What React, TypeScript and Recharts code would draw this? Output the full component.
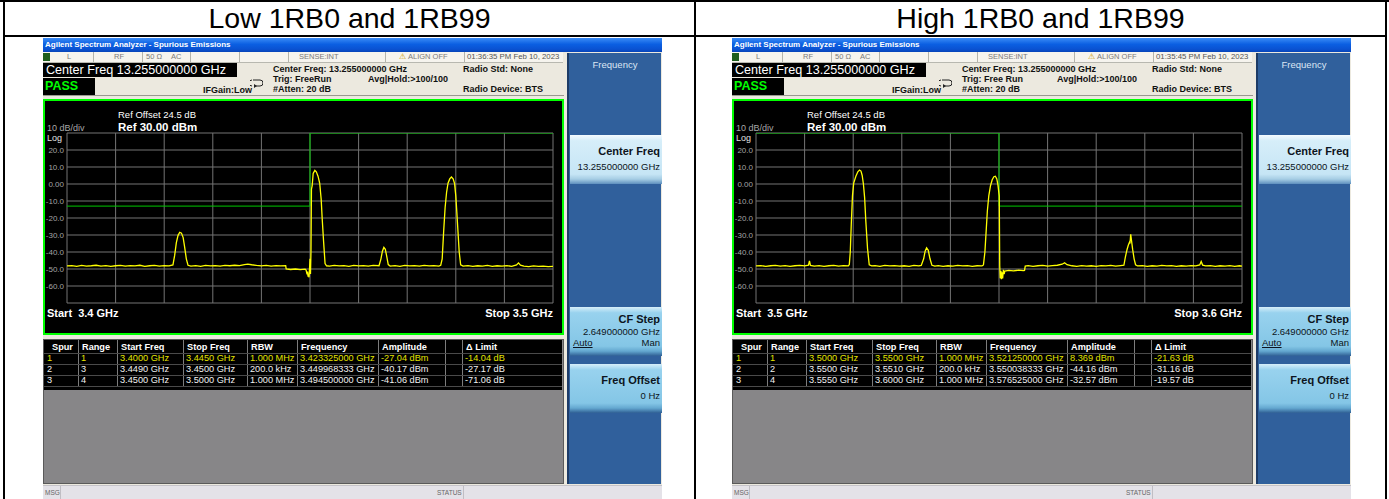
import React from 'react';
import { LineChart, Line, XAxis, YAxis, CartesianGrid } from 'recharts';

type Pt = [number, number];

// trace: [frequency MHz, level dBm]
const lowTrace: Pt[] = [
  [3400, -48.2], [3401, -48.0], [3402, -48.4], [3403, -47.9], [3404, -48.3], [3405, -48.1],
  [3406, -47.8], [3407, -48.3], [3408, -48.0], [3409, -48.5], [3410, -48.1], [3411, -47.9],
  [3412, -48.3], [3413, -48.0], [3414, -48.2], [3415, -47.8], [3416, -48.4], [3417, -48.1],
  [3418, -47.9], [3419, -48.3], [3420, -48.0], [3421, -48.2], [3421.8, -47.6], [3422.15, -42],
  [3422.5, -34.5], [3422.85, -30.2], [3423.2, -28.4], [3423.55, -28.9], [3423.9, -31.5],
  [3424.2, -37], [3424.55, -44], [3424.9, -47.8], [3425.5, -48.3], [3426.5, -48.0],
  [3427.5, -48.4], [3428.5, -47.9], [3429.5, -48.2], [3430.5, -48.0], [3431.5, -48.3],
  [3432.5, -47.9], [3433.5, -48.1], [3434.5, -47.8], [3435.5, -48.0], [3436.5, -47.4],
  [3437.2, -47.1], [3438, -47.5], [3439, -47.9], [3440, -48.2], [3441, -47.9], [3442, -48.3],
  [3443, -48.0], [3444, -48.2], [3445, -48.0], [3445.1, -50.0], [3446, -50.3], [3447, -50.0],
  [3448, -50.4], [3449, -50.1], [3449.2, -50.6], [3449.4, -53.2], [3449.5, -51.5],
  [3449.6, -54.5], [3449.7, -52.8], [3449.8, -54.9], [3449.9, -50], [3450.0, -44],
  [3450.1, -53], [3450.2, -40], [3450.3, -3], [3450.45, -1], [3450.65, 6.2], [3451.0, 8.0],
  [3451.3, 7.2], [3451.65, 4.6], [3452.0, 0.4], [3452.3, -9], [3452.5, -20], [3452.8, -34],
  [3453.1, -46.8], [3453.4, -48.1], [3454, -48.3], [3455, -47.9], [3456, -48.2], [3457, -48.0],
  [3458, -48.4], [3459, -47.9], [3460, -48.2], [3461, -48.0], [3462, -48.3], [3463, -47.9],
  [3464.2, -48.1], [3464.6, -44], [3464.9, -39.5], [3465.2, -37.3], [3465.5, -38.4],
  [3465.75, -42], [3466.1, -47.4], [3466.5, -48.3], [3467.5, -48.0], [3468.5, -48.4],
  [3469.5, -47.9], [3470.5, -48.2], [3471.5, -48.0], [3472.5, -48.3], [3473.5, -47.9],
  [3474.5, -48.2], [3475.5, -48.0], [3476.5, -48.3], [3476.9, -47.8], [3477.2, -44],
  [3477.5, -28], [3477.8, -14], [3478.1, -5], [3478.4, 0.5], [3478.75, 3], [3479.1, 4.1],
  [3479.45, 3], [3479.75, 0.2], [3480.0, -7], [3480.2, -16], [3480.45, -28], [3480.7, -40],
  [3481.0, -47.5], [3481.5, -48.3], [3482.5, -48.0], [3483.5, -48.5], [3484.5, -48.1],
  [3485.5, -48.3], [3486.5, -47.9], [3487.5, -48.4], [3488.5, -48.1], [3489.5, -48.3],
  [3490.5, -48.0], [3491.5, -48.4], [3492.5, -47.6], [3492.9, -46.4], [3493.3, -47.7],
  [3494, -48.3], [3495, -48.6], [3496, -48.2], [3497, -48.5], [3498, -48.3], [3499, -48.6],
  [3500, -48.4],
];

const highTrace: Pt[] = [
  [3500, -48.2], [3501, -48.0], [3502, -48.4], [3503, -48.1], [3504, -47.9], [3505, -48.3],
  [3506, -48.0], [3507, -48.5], [3508, -48.1], [3509, -47.9], [3510, -48.2], [3510.8, -47.8],
  [3511.0, -45.2], [3511.2, -47.9], [3512, -48.3], [3513, -48.0], [3514, -48.4], [3515, -48.1],
  [3516, -47.9], [3517, -48.3], [3518, -48.0], [3519, -48.2], [3519.2, -47.4], [3519.4, -40],
  [3519.6, -24], [3519.85, -7], [3520.1, 0.5], [3520.55, 4.5], [3520.95, 7.2], [3521.3, 8.2],
  [3521.6, 7.6], [3521.85, 5], [3522.1, 0], [3522.35, -8], [3522.6, -22], [3522.95, -38],
  [3523.3, -47.5], [3523.8, -48.2], [3524.5, -48.0], [3525.5, -48.4], [3526.5, -47.9],
  [3527.5, -48.2], [3528.5, -48.0], [3529.5, -48.3], [3530.5, -48.1], [3531.5, -48.4],
  [3532.5, -47.9], [3533.5, -48.2], [3534.0, -47.9], [3534.5, -44], [3534.8, -39.5],
  [3535.1, -37.6], [3535.45, -39], [3535.8, -44], [3536.2, -47.8], [3536.8, -48.3],
  [3537.5, -48.0], [3538.5, -48.4], [3539.5, -48.1], [3540.5, -48.3], [3541.5, -47.9],
  [3542.5, -48.2], [3543.5, -48.0], [3544.5, -48.4], [3545.5, -48.1], [3546.5, -48.2],
  [3546.8, -47.6], [3547.1, -40], [3547.35, -28], [3547.6, -16], [3547.9, -7], [3548.25, -1],
  [3548.6, 2.5], [3548.95, 4.3], [3549.25, 4.6], [3549.55, 3], [3549.8, -1], [3550.05, -7],
  [3550.15, -48], [3550.25, -55.5], [3550.4, -51], [3550.5, -56], [3550.65, -52],
  [3550.75, -55.5], [3550.9, -50.5], [3551.05, -53], [3551.2, -51.2], [3552, -50.8],
  [3553, -51.1], [3554, -50.7], [3555, -51.0], [3555.25, -50.8], [3555.4, -48.3], [3556, -48.0],
  [3557, -48.4], [3558, -48.1], [3559, -47.9], [3560, -48.3], [3561, -48.0], [3562, -47.8],
  [3563, -47.2], [3563.5, -46.3], [3564, -47.5], [3565, -48.1], [3566, -48.4], [3567, -48.0],
  [3568, -48.3], [3569, -48.1], [3570, -48.4], [3571, -48.0], [3572, -48.2], [3573, -47.9],
  [3574, -48.3], [3575, -48.0], [3575.7, -47.8], [3576.0, -43], [3576.35, -38.5],
  [3576.6, -36], [3576.85, -34.3], [3576.95, -35], [3577.1, -29.6], [3577.3, -34],
  [3577.5, -38.5], [3577.8, -44], [3578.1, -47.5], [3578.5, -48.2], [3579.5, -48.0],
  [3580.5, -48.4], [3581.5, -48.1], [3582.5, -48.3], [3583.5, -47.9], [3584.5, -48.2],
  [3585.5, -48.0], [3586.5, -48.4], [3587.5, -48.1], [3588.5, -48.3], [3589.5, -48.0],
  [3590.5, -48.2], [3591.3, -47.6], [3591.6, -45.6], [3591.9, -47.7], [3592.5, -48.2],
  [3593.5, -48.0], [3594.5, -48.4], [3595.5, -48.1], [3596.5, -48.3], [3597.5, -48.0],
  [3598.5, -48.4], [3599.5, -48.1], [3600, -48.3],
];

const lowLimit: Pt[] = [[3400, -13], [3450, -13], [3450, 30], [3500, 30]];
const highLimit: Pt[] = [[3500, 30], [3550, 30], [3550, -13], [3600, -13]];

const levelTicks = [-70, -60, -50, -40, -30, -20, -10, 0, 10, 20, 30];
const lowFreqTicks = [3400, 3410, 3420, 3430, 3440, 3450, 3460, 3470, 3480, 3490, 3500];
const highFreqTicks = [3500, 3510, 3520, 3530, 3540, 3550, 3560, 3570, 3580, 3590, 3600];

const spurHeaders = ['Spur', 'Range', 'Start Freq', 'Stop Freq', 'RBW', 'Frequency', 'Amplitude', '', '\u0394 Limit'];
const lowSpurs = [
  ['1', '1', '3.4000 GHz', '3.4450 GHz', '1.000 MHz', '3.423325000 GHz', '-27.04 dBm', '', '-14.04 dB'],
  ['2', '3', '3.4490 GHz', '3.4500 GHz', '200.0 kHz', '3.449968333 GHz', '-40.17 dBm', '', '-27.17 dB'],
  ['3', '4', '3.4500 GHz', '3.5000 GHz', '1.000 MHz', '3.494500000 GHz', '-41.06 dBm', '', '-71.06 dB'],
];
const highSpurs = [
  ['1', '1', '3.5000 GHz', '3.5500 GHz', '1.000 MHz', '3.521250000 GHz', '8.369 dBm', '', '-21.63 dB'],
  ['2', '2', '3.5500 GHz', '3.5510 GHz', '200.0 kHz', '3.550038333 GHz', '-44.16 dBm', '', '-31.16 dB'],
  ['3', '4', '3.5550 GHz', '3.6000 GHz', '1.000 MHz', '3.576525000 GHz', '-32.57 dBm', '', '-19.57 dB'],
];

const SANS = '"Liberation Sans", Arial, Helvetica, sans-serif';
const colEdges = [0, 34, 73, 139, 203, 253, 334, 401, 418, 516];

const fmtLevel = (v: number) => (v === 30 || v === -70 ? '' : v === 0 ? '0.00' : v.toFixed(1));
const toRows = (p: Pt[]) => p.map(([f, v]) => ({ f, v }));

const abs = (left: number, top: number, extra: React.CSSProperties = {}): React.CSSProperties => ({
  position: 'absolute', left, top, ...extra,
});

function Plot(props: { trace: Pt[]; limit: Pt[]; ticks: number[]; start: string; stop: string }) {
  const { trace, limit, ticks, start, stop } = props;
  return (
    <div style={abs(0, 61, { width: 517, height: 232, border: '2px solid #00ff00', background: '#000' })}>
      <LineChart width={517} height={232} margin={{ top: 32, right: 9, bottom: 30, left: 0 }}>
        <CartesianGrid stroke="#747474" strokeWidth={1} />
        <XAxis dataKey="f" type="number" domain={[ticks[0], ticks[ticks.length - 1]]} ticks={ticks} hide allowDataOverflow />
        <YAxis
          type="number"
          domain={[-70, 30]}
          ticks={levelTicks}
          interval={0}
          width={22}
          tickSize={0}
          tickMargin={3}
          axisLine={false}
          tickLine={false}
          tick={{ fill: '#a4a4a4', fontSize: 8, fontFamily: SANS }}
          tickFormatter={fmtLevel}
          allowDataOverflow
        />
        <Line data={toRows(limit)} dataKey="v" stroke="#00c800" strokeWidth={1} dot={false} isAnimationActive={false} />
        <Line data={toRows(trace)} dataKey="v" stroke="#ffff00" strokeWidth={1.3} dot={false} isAnimationActive={false} />
      </LineChart>
      <div style={abs(73, 9, { color: '#fff', fontSize: 9.5, lineHeight: '10px', whiteSpace: 'nowrap' })}>Ref Offset 24.5 dB</div>
      <div style={abs(73, 20, { color: '#fff', fontSize: 11.5, fontWeight: 'bold', lineHeight: '12px', whiteSpace: 'nowrap' })}>Ref 30.00 dBm</div>
      <div style={abs(2, 22, { color: '#a8a8a8', fontSize: 9, lineHeight: '10px' })}>10 dB/div</div>
      <div style={abs(2, 33, { color: '#e0e0e0', fontSize: 9, lineHeight: '9px' })}>Log</div>
      <div style={abs(2, 206, { color: '#fff', fontSize: 11, fontWeight: 'bold', lineHeight: '12px', whiteSpace: 'pre' })}>{start}</div>
      <div style={{ position: 'absolute', right: 9, top: 206, color: '#fff', fontSize: 11, fontWeight: 'bold', lineHeight: '12px', whiteSpace: 'pre' }}>{stop}</div>
    </div>
  );
}

function SpurTable({ rows }: { rows: string[][] }) {
  const rowTops = [13, 24, 35];
  return (
    <div style={abs(0, 301, { width: 519, height: 143, background: '#878688', border: '1px solid #5a5a5a' })}>
      <div style={abs(0, 0, { width: 518, height: 50, background: '#000', fontSize: 9.2, lineHeight: '11px' })}>
        {colEdges.slice(1, -1).map((x) => (
          <div key={x} style={abs(x, 0, { width: 1, height: 46, background: '#7c7c7c' })} />
        ))}
        {[13, 24, 35, 46].map((y) => (
          <div key={y} style={abs(0, y, { width: 518, height: 1, background: '#4a4a4a' })} />
        ))}
        {spurHeaders.map((h, i) => (
          <div key={'h' + i} style={abs(colEdges[i] + (i === 0 ? 8 : 4), 1, { color: '#fff', fontWeight: 'bold', whiteSpace: 'nowrap', lineHeight: '12px' })}>{h}</div>
        ))}
        {rows.map((r, ri) =>
          r.map((c, ci) => (
            <div key={ri + '-' + ci} style={abs(colEdges[ci] + 3, rowTops[ri], { color: ri === 0 ? '#e4e400' : '#f2f2f2', whiteSpace: 'nowrap' })}>{c}</div>
          )),
        )}
      </div>
    </div>
  );
}

function LoopIcon() {
  return (
    <svg width={13} height={9} style={abs(207, 41)}>
      <path d="M3 1 H10 A3 3 0 0 1 10 7 H4" fill="none" stroke="#222" strokeWidth={1} />
      <path d="M2 1 A3 3 0 0 0 2 7" fill="none" stroke="#222" strokeWidth={1} />
      <path d="M4 5 L7 7 L4 9 Z" fill="#222" />
    </svg>
  );
}

function SoftKey(props: { top: number; title: string; sub: string; light?: boolean; auto?: boolean }) {
  const { top, title, sub, light, auto } = props;
  const bg = light
    ? 'linear-gradient(#f4fbff 0%, #d6eef9 12%, #c6e5f5 80%, #a6cde4 90%, #5d8fbe 100%)'
    : 'linear-gradient(#d6eef9 0%, #98d2ee 12%, #84c6e6 80%, #64a8d0 90%, #2f5f94 100%)';
  return (
    <div style={abs(1, top, { width: 92, height: 49, background: bg, color: '#0c1420', textAlign: 'right' })}>
      <div style={{ position: 'absolute', right: 2, top: auto ? 6 : 10, fontSize: 11, fontWeight: 'bold', whiteSpace: 'nowrap' }}>{title}</div>
      <div style={{ position: 'absolute', right: 2, top: auto ? 19 : 26, fontSize: 9.5, whiteSpace: 'nowrap' }}>{sub}</div>
      {auto && (
        <>
          <div style={{ position: 'absolute', left: 3, top: 30, fontSize: 9.5, textDecoration: 'underline' }}>Auto</div>
          <div style={{ position: 'absolute', right: 2, top: 30, fontSize: 9.5 }}>Man</div>
        </>
      )}
    </div>
  );
}

function Screen(props: {
  left: number; time: string; trig: string; start: string; stop: string;
  trace: Pt[]; limit: Pt[]; ticks: number[]; spurs: string[][];
}) {
  const { left, time, trig, start, stop, trace, limit, ticks, spurs } = props;
  const status: React.CSSProperties = { fontSize: 7.5, color: '#7a7a7a', lineHeight: '10px', whiteSpace: 'nowrap' };
  const info: React.CSSProperties = { fontSize: 9, fontWeight: 'bold', color: '#111', lineHeight: '9px', whiteSpace: 'nowrap' };
  return (
    <div style={abs(left, 38, { width: 619, height: 461, background: '#ece9df', overflow: 'hidden' })}>
      <div style={abs(0, 0, { width: 619, height: 14, background: 'linear-gradient(#3b8cf6, #0b5fe2 45%, #0a52d2 80%, #0845b8)', color: '#fff', fontSize: 8, fontWeight: 'bold', lineHeight: '14px', paddingLeft: 2, boxSizing: 'border-box' })}>
        Agilent Spectrum Analyzer - Spurious Emissions
      </div>
      <div style={abs(0, 14, { width: 520, height: 10, background: '#f6f4ee', borderBottom: '1px solid #b8b8b0' })}>
        <div style={abs(0, 1, { width: 7, height: 8, background: '#1e5e1e' })} />
        {[50, 99, 147, 196, 245, 342, 421].map((x) => (
          <div key={x} style={abs(x, 0, { width: 1, height: 10, background: '#b4b4ac' })} />
        ))}
        <div style={abs(24, 0, status)}>L</div>
        <div style={abs(71, 0, status)}>RF</div>
        <div style={abs(103, 0, status)}>{'50 \u03a9'}</div>
        <div style={abs(128, 0, status)}>AC</div>
        <div style={abs(256, 0, status)}>SENSE:INT</div>
        <div style={abs(356, 0, { ...status, color: '#c89a00' })}>{'\u26a0'}</div>
        <div style={abs(365, 0, status)}>ALIGN OFF</div>
        <div style={abs(424, 0, { ...status, color: '#555', fontSize: 7.8 })}>{time}</div>
      </div>
      <div style={abs(0, 25, { width: 194, height: 14, background: '#000', color: '#fff', fontSize: 12.6, lineHeight: '14px', paddingLeft: 3, boxSizing: 'border-box', whiteSpace: 'nowrap' })}>
        Center Freq 13.255000000 GHz
      </div>
      <div style={abs(0, 40, { width: 52, height: 17, background: '#000', color: '#00ff00', fontSize: 12.5, fontWeight: 'bold', lineHeight: '17px', paddingLeft: 2, boxSizing: 'border-box' })}>
        PASS
      </div>
      <div style={abs(0, 57, { width: 521, height: 1, background: '#9a9890' })} />
      <div style={abs(230, 27, info)}>Center Freq: 13.255000000 GHz</div>
      <div style={abs(230, 37, info)}>{trig}</div>
      <div style={abs(230, 47, info)}>#Atten: 20 dB</div>
      <div style={abs(325, 37, info)}>Avg|Hold:&gt;100/100</div>
      <div style={abs(420, 27, info)}>Radio Std: None</div>
      <div style={abs(420, 47, info)}>Radio Device: BTS</div>
      <div style={abs(160, 48, info)}>IFGain:Low</div>
      <LoopIcon />
      <Plot trace={trace} limit={limit} ticks={ticks} start={start} stop={stop} />
      <SpurTable rows={spurs} />
      <div style={abs(524, 15, { width: 94, height: 431, background: '#30609c', borderLeft: '2px solid #1d3b66', boxSizing: 'border-box' })}>
        <div style={{ position: 'absolute', left: 0, width: 92, top: 6, textAlign: 'center', color: '#dbe6f4', fontSize: 9.5 }}>Frequency</div>
        <SoftKey top={82} title="Center Freq" sub="13.255000000 GHz" light />
        <SoftKey top={254} title="CF Step" sub="2.649000000 GHz" auto />
        <SoftKey top={311} title="Freq Offset" sub="0 Hz" />
      </div>
      <div style={abs(0, 447, { width: 619, height: 14, background: '#e4e2e8', borderTop: '1px solid #c4c2c8' })}>
        <div style={abs(2, 3, { fontSize: 6.5, color: '#666' })}>MSG</div>
        <div style={abs(17, 0, { width: 1, height: 14, background: '#c0bec4' })} />
        <div style={abs(394, 3, { fontSize: 6.5, color: '#666' })}>STATUS</div>
        <div style={abs(420, 0, { width: 1, height: 14, background: '#c0bec4' })} />
      </div>
    </div>
  );
}

export default function App() {
  const line = (l: number, t: number, w: number, h: number) => (
    <div style={abs(l, t, { width: w, height: h, background: '#000' })} />
  );
  return (
    <div style={{ position: 'relative', width: 1389, height: 499, background: '#fff', overflow: 'hidden', fontFamily: SANS }}>
      <style>{'html,body{margin:0;padding:0;background:#fff}'}</style>
      {line(0, 0, 1389, 2)}
      {line(3, 0, 2, 499)}
      {line(694, 0, 2, 499)}
      {line(1385, 0, 2, 499)}
      {line(3, 35, 1384, 2)}
      <div style={abs(5, 0, { width: 689, height: 35, lineHeight: '36px', textAlign: 'center', fontSize: 28.5 })}>Low 1RB0 and 1RB99</div>
      <div style={abs(696, 0, { width: 689, height: 35, lineHeight: '36px', textAlign: 'center', fontSize: 28.5 })}>High 1RB0 and 1RB99</div>
      <Screen left={43} time="01:36:35 PM Feb 10, 2023" trig="Trig: FreeRun" start="Start  3.4 GHz" stop="Stop 3.5 GHz"
        trace={lowTrace} limit={lowLimit} ticks={lowFreqTicks} spurs={lowSpurs} />
      <Screen left={732} time="01:35:45 PM Feb 10, 2023" trig="Trig: Free Run" start="Start  3.5 GHz" stop="Stop 3.6 GHz"
        trace={highTrace} limit={highLimit} ticks={highFreqTicks} spurs={highSpurs} />
    </div>
  );
}
